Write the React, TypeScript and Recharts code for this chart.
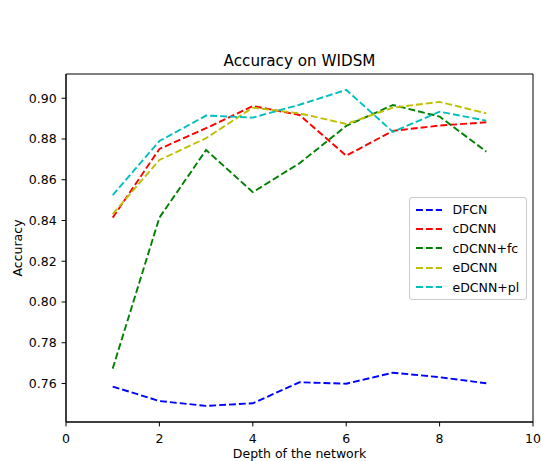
import React from 'react';
import { LineChart, Line, XAxis, YAxis, Legend, Label, ReferenceArea } from 'recharts';

const depths = [1, 2, 3, 4, 5, 6, 7, 8, 9];
const dfcn = [0.7585, 0.7514, 0.7490, 0.7503, 0.7606, 0.7599, 0.7653, 0.7631, 0.7601];
const cdcnn = [0.8414, 0.8751, 0.8853, 0.8962, 0.8918, 0.8718, 0.8840, 0.8866, 0.8882];
const cdcnnFc = [0.7673, 0.8414, 0.8746, 0.8539, 0.8681, 0.8864, 0.8967, 0.8910, 0.8738];
const edcnn = [0.8431, 0.8697, 0.8804, 0.8954, 0.8926, 0.8874, 0.8954, 0.8982, 0.8926];
const edcnnPl = [0.8525, 0.8790, 0.8915, 0.8905, 0.8968, 0.9041, 0.8835, 0.8934, 0.8890];
const xTicks = [0, 2, 4, 6, 8, 10];
const yTicks = [0.76, 0.78, 0.8, 0.82, 0.84, 0.86, 0.88, 0.9];
const xDomain = [0, 10];
const yDomain = [0.7411, 0.9119];

const seriesNames = ['DFCN', 'cDCNN', 'cDCNN+fc', 'eDCNN', 'eDCNN+pl'];
const seriesValues = [dfcn, cdcnn, cdcnnFc, edcnn, edcnnPl];
const seriesColors = ['#0000ff', '#ff0000', '#008000', '#bfbf00', '#00bfbf'];

const data = depths.map((d, i) => {
  const row: any = { depth: d };
  seriesNames.forEach((n, k) => { row[n] = seriesValues[k][i]; });
  return row;
});

const FONT = '"DejaVu Sans", sans-serif';
const DASH = '6.9 3';

const LegendBox = (props: any) => {
  const { payload } = props;
  return (
    <div style={{
      border: '1px solid #cccccc', borderRadius: 3, background: 'rgba(255,255,255,0.8)',
      padding: '2px 0', boxSizing: 'border-box', width: 118, fontFamily: FONT, fontSize: 12.5,
    }}>
      {(payload || []).map((e: any) => (
        <div key={e.value} style={{ height: 19.4, display: 'flex', alignItems: 'center' }}>
          <svg width={26} height={6} style={{ marginLeft: 5.5, display: 'block' }}>
            <line x1={0} y1={3} x2={26} y2={3} stroke={e.color} strokeWidth={1.9} strokeDasharray={DASH} />
          </svg>
          <span style={{ marginLeft: 11, color: '#000', lineHeight: '19.4px' }}>{e.value}</span>
        </div>
      ))}
    </div>
  );
};

export default function App() {
  return (
    <div style={{ position: 'absolute', left: 0, top: 0, width: 541, height: 461, background: '#fff' }}>
      <LineChart width={541} height={461} data={data} margin={{ top: 74, right: 8, bottom: 9, left: 16 }}
        style={{ fontFamily: FONT }}>
        <XAxis dataKey="depth" type="number" domain={xDomain} ticks={xTicks} allowDataOverflow
          height={30} tickSize={4.4} tickMargin={7.4} stroke="#000" axisLine={{ stroke: '#000', strokeWidth: 1 }}
          tick={{ fill: '#000', fontSize: 12.5, fontFamily: FONT }} tickLine={{ stroke: '#000' }}>
          <Label content={(p: any) => {
            const vb = p.viewBox;
            return (
              <text x={vb.x + vb.width / 2} y={vb.y + 36} textAnchor="middle" fontSize={12.5} fontFamily={FONT} fill="#000">
                Depth of the network
              </text>
            );
          }} />
        </XAxis>
        <YAxis type="number" domain={yDomain} ticks={yTicks} allowDataOverflow width={50}
          tickSize={4.4} tickMargin={5} tickFormatter={(v: number) => v.toFixed(2)}
          axisLine={{ stroke: '#000', strokeWidth: 1 }} tickLine={{ stroke: '#000' }}
          tick={{ fill: '#000', fontSize: 12.5, fontFamily: FONT }}>
          <Label content={(p: any) => {
            const vb = p.viewBox;
            const cx = vb.x + 1;
            const cy = vb.y + vb.height / 2;
            return (
              <text x={cx} y={cy} transform={`rotate(-90 ${cx} ${cy})`} textAnchor="middle" dominantBaseline="central"
                fontSize={12.5} fontFamily={FONT} fill="#000">
                Accuracy
              </text>
            );
          }} />
        </YAxis>
        <ReferenceArea x1={xDomain[0]} x2={xDomain[1]} y1={yDomain[0]} y2={yDomain[1]}
          fill="none" fillOpacity={0} stroke="#000" strokeWidth={1} ifOverflow="visible">
          <Label content={(p: any) => {
            const vb = p.viewBox;
            return (
              <text x={vb.x + vb.width / 2} y={vb.y - 8} textAnchor="middle" fontSize={15.2} fontFamily={FONT} fill="#000">
                Accuracy on WIDSM
              </text>
            );
          }} />
        </ReferenceArea>
        {seriesNames.map((n, k) => (
          <Line key={n} dataKey={n} name={n} type="linear" stroke={seriesColors[k]} strokeWidth={1.9}
            strokeDasharray={DASH} dot={false} activeDot={false} isAnimationActive={false} />
        ))}
        <Legend layout="vertical" align="center" verticalAlign="middle" content={<LegendBox />}
          wrapperStyle={{ left: 409, top: 197, width: 118, height: 'auto' }} />
      </LineChart>
    </div>
  );
}
